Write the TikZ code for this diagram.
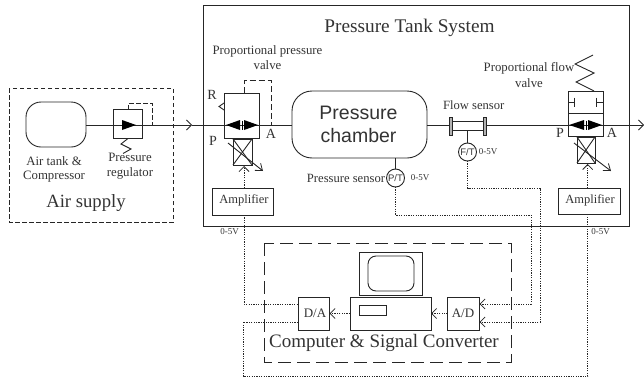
\documentclass[tikz,border=0pt]{standalone}
\usepackage{fontspec}
\setmainfont{Liberation Serif}
\newfontfamily\arialf{Liberation Sans}
\usetikzlibrary{arrows.meta}
\tikzset{
  line/.style={line width=0.9pt,black!85},
  sig/.style={line width=0.8pt,black!85,dash pattern=on 1.2pt off 1.2pt},
  barb/.style={-{Straight Barb[length=5pt,width=10pt,line width=0.8pt]}},
  boxn/.style={draw=black!85,line width=0.9pt,inner sep=0pt,outer sep=0pt,fill=none},
  lab/.style={inner sep=0pt,outer sep=0pt,text=black!80,align=center},
  dashA/.style={line width=0.9pt,black!85,dash pattern=on 4.5pt off 2.5pt},
  dashB/.style={line width=0.9pt,black!85,dash pattern=on 6pt off 3pt},
  dashC/.style={line width=0.9pt,black!85,dash pattern=on 13pt off 6pt},
}
\newcommand{\bx}[6][]{\node[boxn,#1,minimum width={(#5-#3)*1pt},minimum height={(#6-#4)*1pt}] (#2) at ({(#3+#5)/2},{(#4+#6)/2}) {};}
\newcommand{\lb}[5][]{\node[lab,font=\fontsize{#4}{#4}\selectfont,#1] (#2) at (#3) {#5};}
\begin{document}
\begin{tikzpicture}[x=1pt,y=-1pt]
\useasboundingbox (0,0) rectangle (644,380);
% enclosures
\draw[dashA] (9,88) rectangle (173,222);
\bx{tanksys}{203.5}{5}{629.5}{226}
\draw[dashC] (264,243) rectangle (511,362);
% air supply
\bx[rounded corners=15pt]{airtank}{26}{102}{86}{147}
\bx{reg}{113}{109}{142}{138}
% pressure valve
\bx{pv}{224}{93}{259}{138}
\bx{pvsol}{233}{139}{252}{165}
\bx{amp1}{212}{188}{273}{215}
% chamber
\bx[rounded corners=20pt]{chamber}{292}{91}{427}{158}
% flow sensor
\bx{fsbody}{451}{121}{485}{130}
\bx[fill=black!30]{flL}{449.5}{117}{452}{135}
\bx[fill=black!30]{flR}{483.5}{117}{486}{135}
\node[boxn,circle,minimum size=18pt] (ft) at (467.5,152) {};
\node[boxn,circle,minimum size=18pt] (pt) at (395.5,178) {};
% flow valve
\bx{fv}{568}{91}{603}{136}
\bx{fvsol}{577}{137}{595}{163}
\bx{amp2}{558}{188}{620}{214}
% computer
\bx{monitor}{359}{252}{422.5}{295}
\bx[rounded corners=8pt]{screen}{368}{256}{414}{291}
\bx{pc}{350}{297}{431}{330}
\bx{slot}{359.5}{305}{386.5}{315}
\bx{da}{298}{297}{329.5}{330}
\bx{ad}{447.5}{297}{479}{330}
% coordinates
\coordinate (a1) at (192,125);
\coordinate (a2) at (644,125);
\coordinate (s1t) at (244,166);
\coordinate (s1m) at (244,188);
\coordinate (s1b) at (244,215);
\coordinate (s2t) at (587.7,164);
\coordinate (s2b) at (587.7,188);
\coordinate (s2c) at (587.7,214);
% main line
\draw[line,barb] (airtank.east |- a1) -- (a1);
\draw[line] (a1) -- (pv.west |- a1);
\draw[line] (pv.east |- a1) -- (chamber.west |- a1);
\draw[line] (chamber.east |- a1) -- (flL.west |- a1);
\draw[line] (flR.east |- a1) -- (fv.west |- a1);
\draw[line,barb] (fv.east |- a1) -- (a2);
\draw[line] (pt.north) -- (pt.north |- chamber.south);
\draw[line] (ft.north) -- (ft.north |- fsbody.south);
% regulator details
\fill[black] (122,120) -- (136,125) -- (122,130) -- cycle;
\draw[dashA] (128,109) -- (128,103) -- (152,103) -- (152,125);
\draw[line] (128,138.5) -- (121,144) -- (131,149) -- (123,153.5);
% pressure valve details
\draw[line] (224,125) -- (259,125);
\fill[black] (226,125) -- (240,120) -- (240,130) -- cycle;
\fill[black] (258,125) -- (244,120) -- (244,130) -- cycle;
\draw[black,line width=0.5pt] (242,120.5) -- (242,129.5);
\draw[dashB] (244,93) -- (244,80.5) -- (271,80.5) -- (271,125);
\draw[line] (224,103) -- (219,106.5) -- (224,110);
\draw[line] (pvsol.north west) -- (pvsol.south east);
\draw[line] (pvsol.north east) -- (pvsol.south west);
\draw[line,-{Straight Barb[length=6pt,width=9pt,line width=0.8pt]}] (228,143) -- (263,171);
% flow valve details
\draw[line] (568,113) -- (603,113);
\draw[line] (568,125) -- (603,125);
\draw[line] (568,102) -- (574,102) (574,97.5) -- (574,107);
\draw[line] (603,102) -- (596,102) (596,97.5) -- (596,107);
\fill[black] (569,125) -- (584,120) -- (584,130) -- cycle;
\fill[black] (602,125) -- (588,120) -- (588,130) -- cycle;
\draw[black,line width=0.5pt] (586,120.5) -- (586,129.5);
\draw[line] (594,91) -- (576,82) -- (594,73) -- (575,64) -- (593,55);
\draw[line] (fvsol.north west) -- (fvsol.south east);
\draw[line] (fvsol.north east) -- (fvsol.south west);
\draw[line,-{Straight Barb[length=6pt,width=9pt,line width=0.8pt]}] (574,143) -- (611,171);
% signals
\draw[sig,barb] (s1m) -- (s1t);
\draw[sig,barb] (s2b) -- (s2t);
\draw[sig] (s1b) -- (244,304) -- (da.west |- 0,304);
\draw[sig] (da.west |- 0,322) -- (243,322) -- (243,376) -- (587.7,376) -- (s2c);
\draw[sig,barb] (pt.south) -- (395.5,215) -- (531,215) -- (531,304) -- (479.5,304);
\draw[sig,barb] (ft.south) -- (467.5,188) -- (540,188) -- (540,322) -- (479.5,322);
\draw[sig,barb] (ad.west) -- (pc.east);
\draw[sig,barb] (pc.west) -- (da.east);
% labels
\lb{t1}{409.5,28}{19.3}{Pressure Tank System}
\lb{t2}{267.5,57.5}{12.8}{Proportional pressure\\[2pt]valve}
\lb{tR}{212,95}{14}{R}
\lb{tP}{213,141}{14}{P}
\lb{tA}{271,134}{14}{A}
\lb{t3}{54,169.5}{12.8}{Air tank \&\\[2pt]Compressor}
\lb{t4}{130,166.5}{12.8}{Pressure\\[2pt]regulator}
\lb{t5}{86,203}{18.7}{Air supply}
\lb{t6}{244,200}{12.5}{Amplifier}
\lb{t7}{590,200}{12.5}{Amplifier}
\lb{t8}{229.5,232}{9}{0-5V}
\lb{t9}{600.5,232}{9}{0-5V}
\lb[anchor=east]{t10}{385,178}{12.6}{Pressure sensor}
\lb{t11}{420,178}{9}{0-5V}
\lb{t12}{488,152}{9}{0-5V}
\lb{t13}{473.7,105}{12.6}{Flow sensor}
\lb{t14}{529,75}{12.8}{Proportional flow\\[3pt]valve}
\lb{t15}{560,133}{14}{P}
\lb{t16}{612,133}{14}{A}
\lb{t17}{315,313}{13}{D/A}
\lb{t18}{463,313}{13}{A/D}
\lb{t19}{384,343}{19}{Computer \& Signal Converter}
\node[lab,font=\arialf\fontsize{19.5}{23}\selectfont] (t20) at (358.5,124.5) {Pressure\\chamber};
\node[lab,font=\arialf\fontsize{9.5}{10}\selectfont] (t21) at (pt) {P/T};
\node[lab,font=\arialf\fontsize{9.5}{10}\selectfont] (t22) at (ft) {F/T};
\end{tikzpicture}
\end{document}
